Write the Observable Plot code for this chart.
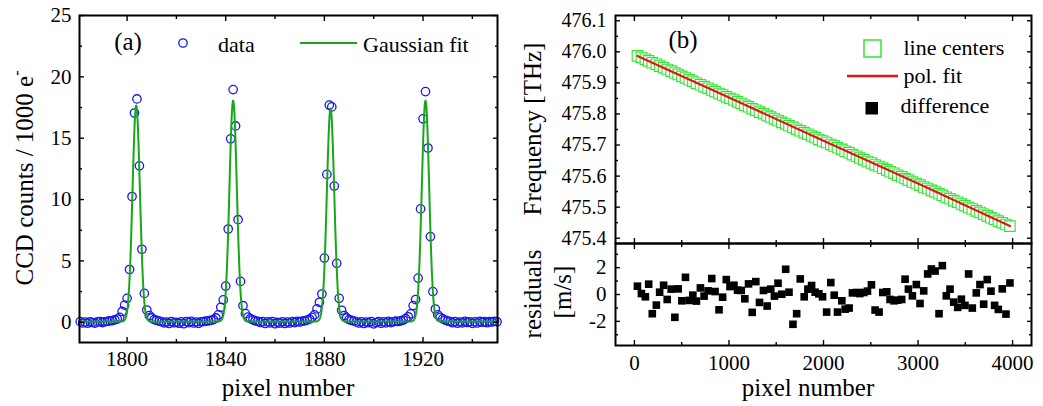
<!DOCTYPE html>
<html><head><meta charset="utf-8">
<script src="https://cdn.jsdelivr.net/npm/d3@7"></script>
<script src="https://cdn.jsdelivr.net/npm/@observablehq/plot@0.6"></script>
<style>
html,body{margin:0;padding:0;background:#fff;}
#wrap{position:relative;width:1043px;height:406px;overflow:hidden;font-family:"Liberation Serif","Times New Roman",serif;}
#wrap > svg{position:absolute;overflow:visible;}
#wrap text{font-family:"Liberation Serif","Times New Roman",serif;}
</style></head>
<body><div id="wrap"></div>
<script>
// ---------------- panel (a) data ----------------
const pixelStart = 1781; // first pixel shown, one value per pixel
const counts = [
  0.05, -0.06, 0.02, -0.08, 0.04, -0.02, -0.07, 0.03, 0.06, -0.03,   // 1781-1790
  0.04, 0.08, 0.12, 0.14, 0.2,        // 1791-1795
  0.26, 0.4, 0.88, 1.4, 1.95,         // 1796-1800
  4.3, 10.25, 17.05, 18.2, 12.75,     // 1801-1805
  5.95, 2.35, 1.0, 0.55, 0.35,        // 1806-1810
  0.22, 0.15, 0.1, 0.04, -0.05,       // 1811-1815
  0.02, -0.1, 0.06, -0.04, 0.0,       // 1816-1820
  -0.08, 0.03, -0.12, 0.05, -0.03,    // 1821-1825
  0.07, -0.06, 0.02, -0.09, 0.04,     // 1826-1830
  0.06, 0.1, 0.12, 0.15, 0.22,        // 1831-1835
  0.35, 0.6, 1.22, 1.82, 2.95,        // 1836-1840
  7.6, 14.95, 18.96, 16.0, 8.36,      // 1841-1845
  3.33, 1.35, 0.7, 0.42, 0.3,         // 1846-1850
  0.2, 0.12, 0.08, -0.02, 0.05,       // 1851-1855
  -0.1, 0.03, -0.05, 0.06, -0.12,     // 1856-1860
  0.0, -0.07, 0.04, -0.1, 0.02,       // 1861-1865
  -0.06, 0.05, -0.03, 0.08, 0.02,     // 1866-1870
  0.1, 0.12, 0.18, 0.25, 0.4,         // 1871-1875
  0.6, 1.09, 1.63, 2.3, 5.23,         // 1876-1880
  12.05, 17.7, 17.55, 11.1, 4.8,      // 1881-1885
  1.95, 0.98, 0.55, 0.35, 0.22,       // 1886-1890
  0.15, 0.1, 0.03, -0.06, 0.04,       // 1891-1895
  -0.1, 0.02, -0.04, 0.06, -0.13,     // 1896-1900
  -0.02, 0.05, -0.08, 0.03, -0.05,    // 1901-1905
  0.07, -0.03, 0.04, 0.1, 0.06,       // 1906-1910
  0.12, 0.18, 0.3, 0.45, 0.68,        // 1911-1915
  1.36, 1.85, 3.6, 9.24, 16.58,       // 1916-1920
  18.8, 14.2, 6.98, 2.5, 1.08,        // 1921-1925
  0.6, 0.4, 0.28, 0.18, 0.1,          // 1926-1930
  0.05, -0.04, 0.06, -0.08, 0.02,     // 1931-1935
  -0.05, 0.08, -0.02, 0.04, -0.09,    // 1936-1940
  0.03, -0.06, 0.07, 0.0, 0.05,       // 1941-1945
  -0.04, 0.06, 0.02, 0.08, 0.04       // 1946-1950
];
// Gaussian fit parameters
const fitCenters = [1803.7, 1843.0, 1882.5, 1921.0];
const fitAmplitudes = [17.6, 18.0, 17.35, 18.0];
const fitSigma = 1.5;
const fitOffset = 0.06;
const aXTicks = [1800, 1840, 1880, 1920];
const aXMinor = [1820, 1860, 1900, 1940];
const aYTicks = [0, 5, 10, 15, 20, 25];
const aYMinor = [2.5, 7.5, 12.5, 17.5, 22.5];

// ---------------- panel (b) data ----------------
const centerPixels = [
  32, 74, 116, 151, 189, 232, 267, 309, 347, 389,
  428, 463, 502, 540, 579, 618, 656, 698, 737, 779,
  818, 853, 895, 933, 972, 1011, 1053, 1091, 1130, 1168,
  1207, 1246, 1284, 1323, 1365, 1404, 1442, 1481, 1519, 1558,
  1600, 1635, 1677, 1716, 1754, 1796, 1835, 1874, 1912, 1951,
  1990, 2033, 2077, 2113, 2148, 2194, 2229, 2271, 2306, 2349,
  2384, 2426, 2465, 2507, 2546, 2588, 2627, 2669, 2704, 2746,
  2785, 2827, 2863, 2898, 2940, 2982, 3021, 3060, 3102, 3141,
  3180, 3222, 3257, 3299, 3338, 3377, 3419, 3458, 3496, 3535,
  3574, 3616, 3655, 3694, 3732, 3771, 3810, 3849, 3891, 3930,
  3972
];
const centerFreqs = [
  475.987, 475.982, 475.976, 475.971, 475.965, 475.960, 475.954, 475.949, 475.943, 475.938,
  475.932, 475.927, 475.921, 475.916, 475.910, 475.905, 475.899, 475.894, 475.888, 475.883,
  475.877, 475.872, 475.866, 475.861, 475.855, 475.850, 475.845, 475.839, 475.834, 475.828,
  475.823, 475.817, 475.812, 475.806, 475.801, 475.795, 475.790, 475.784, 475.779, 475.773,
  475.768, 475.762, 475.757, 475.751, 475.746, 475.740, 475.735, 475.729, 475.724, 475.718,
  475.713, 475.708, 475.702, 475.697, 475.691, 475.686, 475.680, 475.675, 475.669, 475.664,
  475.658, 475.653, 475.647, 475.642, 475.636, 475.631, 475.625, 475.620, 475.614, 475.609,
  475.603, 475.598, 475.592, 475.587, 475.581, 475.576, 475.571, 475.565, 475.560, 475.554,
  475.549, 475.543, 475.538, 475.532, 475.527, 475.521, 475.516, 475.510, 475.505, 475.499,
  475.494, 475.488, 475.483, 475.477, 475.472, 475.466, 475.461, 475.455, 475.450, 475.444,
  475.439
];
const residuals = [
  0.62, 0.07, -0.17, 0.77, -1.43, -0.79, 0.17, 0.69, -0.37, 0.40,
  -1.70, 0.42, -0.47, 1.28, -0.44, -0.05, -0.49, 0.49, -0.12, 0.27,
  1.19, 0.22, -1.14, -0.20, 1.11, 0.59, 0.69, 0.32, 0.30, -0.32,
  0.79, -1.33, 0.96, -0.59, 0.30, -0.86, 0.40, -0.12, 0.84, 0.02,
  1.88, 0.17, -2.22, -1.43, 1.16, -0.17, 0.40, 0.67, 0.17, 0.05,
  -0.17, -1.31, 0.89, -0.05, -1.31, -0.47, -1.09, -1.01, 0.12, 0.15,
  0.07, 0.15, 0.25, 0.72, -1.16, -1.31, 0.15, 0.20, -0.37, -0.47,
  -0.42, -0.37, 1.14, 0.40, -0.10, 0.74, -0.67, 0.27, 1.53, 1.90,
  1.75, -1.43, 2.15, -0.10, 0.40, -0.57, -0.96, -0.35, -0.81, 1.53,
  -1.01, 0.12, 0.74, -0.72, 1.11, 0.25, -0.81, -1.11, 0.42, -1.46,
  0.86
];
const polFitPixels = [32, 1000, 2000, 3000, 3972];
const polFitFreqs = [475.987, 475.853, 475.714, 475.576, 475.439];
const bXTicks = [0, 1000, 2000, 3000, 4000];
const bXMinor = [500, 1500, 2500, 3500];
const bYTicks = [475.4, 475.5, 475.6, 475.7, 475.8, 475.9, 476.0, 476.1];
const bYMinor = [475.45, 475.55, 475.65, 475.75, 475.85, 475.95, 476.05];
const rYTicks = [-2, 0, 2];
const rYMinor = [-3, -1, 1, 3];

// ---------------- styles ----------------
const BLUE = "#1616f2", GREEN = "#19a619", LIME = "#33e433", RED = "#e31414";
const FONT = "Liberation Serif, Times New Roman, serif";
const baseStyle = {fontFamily: FONT, fontSize: "21px", background: "transparent", overflow: "visible", color: "black"};
const TW = 1.4; // tick stroke width

function ticksX(ticks, minor, bottomLabels, pad) {
  const m = [
    Plot.axisX(ticks, {anchor: "bottom", tickSize: -5, fill: "none", strokeWidth: TW, label: null}),
    Plot.axisX(minor, {anchor: "bottom", tickSize: -3, fill: "none", strokeWidth: TW, label: null}),
    Plot.axisX(ticks, {anchor: "top", tickSize: -5, fill: "none", strokeWidth: TW, label: null}),
    Plot.axisX(minor, {anchor: "top", tickSize: -3, fill: "none", strokeWidth: TW, label: null})
  ];
  if (bottomLabels) m.push(Plot.axisX(ticks, {anchor: "bottom", tickSize: 0, tickPadding: pad, fontSize: 21, fontFamily: FONT, fill: "black", label: null, tickFormat: d => String(d)}));
  return m;
}
function ticksY(ticks, minor, fmt, pad, fs) {
  return [
    Plot.axisY(ticks, {anchor: "left", tickSize: -5, fill: "none", strokeWidth: TW, label: null}),
    Plot.axisY(minor, {anchor: "left", tickSize: -3, fill: "none", strokeWidth: TW, label: null}),
    Plot.axisY(ticks, {anchor: "right", tickSize: -5, fill: "none", strokeWidth: TW, label: null}),
    Plot.axisY(minor, {anchor: "right", tickSize: -3, fill: "none", strokeWidth: TW, label: null}),
    Plot.axisY(ticks, {anchor: "left", tickSize: 0, tickPadding: pad, fontSize: fs, fontFamily: FONT, fill: "black", label: null, tickFormat: fmt})
  ];
}

const wrap = document.getElementById("wrap");

// ---------------- panel (a) ----------------
const dataPts = counts.map((c, i) => ({pixel: pixelStart + i, counts: c}));
const fitPts = d3.range(1780.7, 1950.25, 0.1).map(x => ({
  pixel: x,
  counts: fitOffset + d3.sum(fitCenters, (c, i) => fitAmplitudes[i] * Math.exp(-((x - c) ** 2) / (2 * fitSigma ** 2)))
}));
const plotA = Plot.plot({
  width: 520, height: 406,
  marginLeft: 79, marginRight: 23, marginTop: 15, marginBottom: 64,
  style: baseStyle,
  x: {domain: [1780.7, 1950.2]},
  y: {domain: [-1.65, 25]},
  marks: [
    Plot.dot(dataPts, {x: "pixel", y: "counts", r: 4.2, stroke: BLUE, strokeWidth: 1.3, fill: "none"}),
    Plot.line(fitPts, {x: "pixel", y: "counts", stroke: GREEN, strokeWidth: 2}),
    ...ticksX(aXTicks, aXMinor, true, 9),
    ...ticksY(aYTicks, aYMinor, d => String(d), 8, 21),
    Plot.frame({stroke: "black", strokeWidth: 2})
  ]
});
plotA.style.left = "0px"; plotA.style.top = "0px";
wrap.appendChild(plotA);

// ---------------- panel (b) top ----------------
const centers = centerPixels.map((p, i) => ({pixel: p, freq: centerFreqs[i], res: residuals[i]}));
const polFit = polFitPixels.map((p, i) => ({pixel: p, freq: polFitFreqs[i]}));
const plotB = Plot.plot({
  width: 523, height: 243,
  marginLeft: 95, marginRight: 12, marginTop: 15, marginBottom: 0,
  style: baseStyle,
  x: {domain: [-200, 4200]},
  y: {domain: [475.383, 476.117]},
  marks: [
    Plot.dot(centers, {x: "pixel", y: "freq", symbol: "square", r: 5.9, stroke: LIME, strokeWidth: 1.1, fill: "white"}),
    Plot.line(polFit, {x: "pixel", y: "freq", stroke: RED, strokeWidth: 2.2}),
    ...ticksX(bXTicks, bXMinor, false, 0),
    ...ticksY(bYTicks, bYMinor, d3.format(".1f"), 9, 20),
    Plot.frame({stroke: "black", strokeWidth: 2})
  ]
});
plotB.style.left = "520px"; plotB.style.top = "0px";
wrap.appendChild(plotB);

// ---------------- panel (b) residuals ----------------
const plotC = Plot.plot({
  width: 523, height: 163,
  marginLeft: 95, marginRight: 12, marginTop: 0, marginBottom: 61,
  style: baseStyle,
  x: {domain: [-200, 4200]},
  y: {domain: [-3.8, 3.8]},
  marks: [
    Plot.dot(centers, {x: "pixel", y: "res", symbol: "square", r: 4.3, fill: "black", stroke: "none"}),
    ...ticksX(bXTicks, bXMinor, true, 10),
    ...ticksY(rYTicks, rYMinor, d => String(d), 9, 21),
    Plot.frame({stroke: "black", strokeWidth: 2})
  ]
});
plotC.style.left = "520px"; plotC.style.top = "243px";
wrap.appendChild(plotC);

// ---------------- titles & legends overlay ----------------
const ov = d3.select(wrap).append("svg")
  .attr("width", 1043).attr("height", 406)
  .style("left", "0px").style("top", "0px")
  .style("font-family", FONT).style("pointer-events", "none");

function title(x, y, txt, size, rot) {
  const t = ov.append("text").attr("x", x).attr("y", y).attr("text-anchor", "middle")
    .attr("font-size", size).attr("fill", "black").text(txt);
  if (rot) t.attr("transform", `rotate(-90 ${x} ${y})`);
  return t;
}
const yl = title(33, 178, "CCD counts / 1000 e", 25, true);
yl.append("tspan").attr("dy", -11).attr("font-size", 16).text("-");
title(288, 396, "pixel number", 25, false);
title(808, 396, "pixel number", 25, false);
title(541, 129, "Frequency [THz]", 25, true);
title(541, 294, "residuals", 25, true);
title(571, 292, "[m/s]", 25, true);

// legend (a)
ov.append("text").attr("x", 128).attr("y", 50).attr("text-anchor", "middle").attr("font-size", 25).text("(a)");
ov.append("circle").attr("cx", 183).attr("cy", 43).attr("r", 4.2).attr("fill", "none").attr("stroke", BLUE).attr("stroke-width", 1.3);
ov.append("text").attr("x", 218).attr("y", 52).attr("font-size", 22).text("data");
ov.append("line").attr("x1", 300).attr("x2", 357).attr("y1", 43).attr("y2", 43).attr("stroke", GREEN).attr("stroke-width", 2);
ov.append("text").attr("x", 363).attr("y", 52).attr("font-size", 22).text("Gaussian fit");

// legend (b)
ov.append("text").attr("x", 683).attr("y", 48).attr("text-anchor", "middle").attr("font-size", 25).text("(b)");
ov.append("rect").attr("x", 864).attr("y", 40).attr("width", 17).attr("height", 17).attr("fill", "white").attr("stroke", LIME).attr("stroke-width", 1.5);
ov.append("text").attr("x", 903.5).attr("y", 55).attr("font-size", 22).text("line centers");
ov.append("line").attr("x1", 847).attr("x2", 898).attr("y1", 76).attr("y2", 76).attr("stroke", RED).attr("stroke-width", 2.4);
ov.append("text").attr("x", 903.5).attr("y", 83).attr("font-size", 22).text("pol. fit");
ov.append("rect").attr("x", 865.5).attr("y", 102).attr("width", 12.5).attr("height", 12.5).attr("fill", "black");
ov.append("text").attr("x", 900.5).attr("y", 113).attr("font-size", 22).text("difference");
</script>
</body></html>
